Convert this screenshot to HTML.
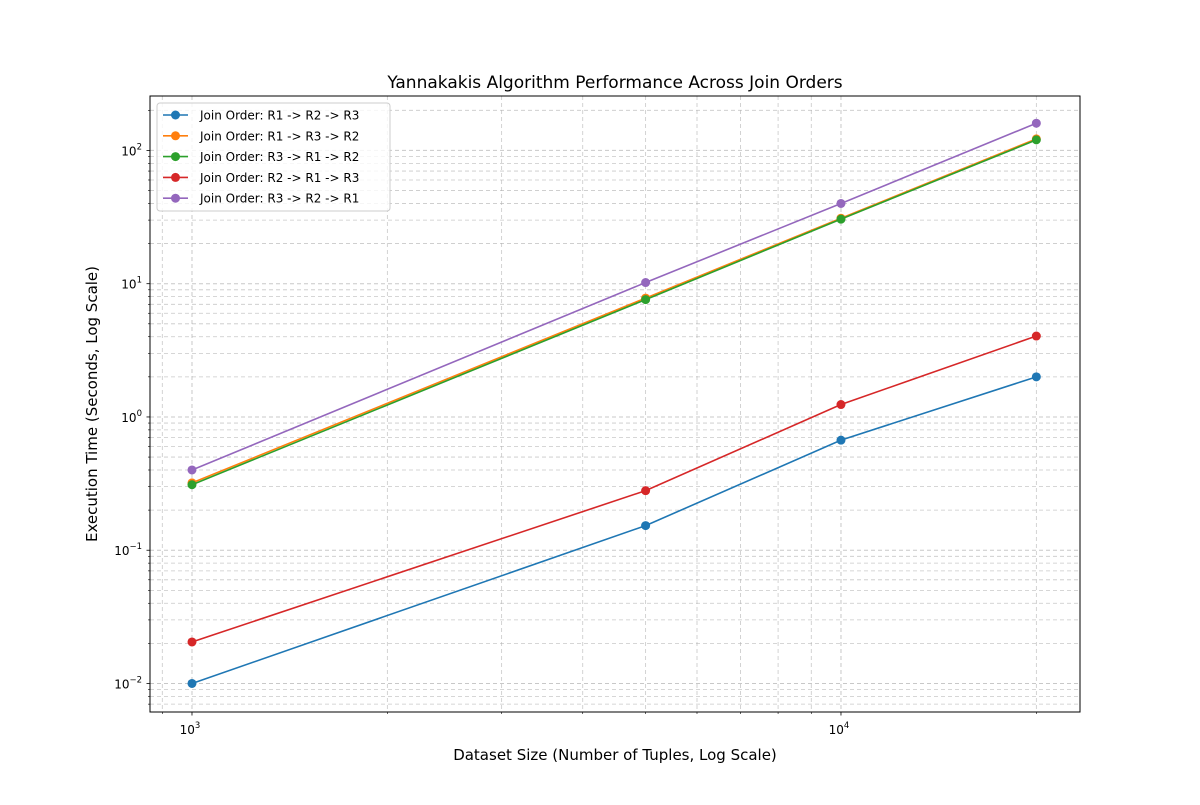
<!DOCTYPE html>
<html><head><meta charset="utf-8"><style>
body{margin:0;background:#fff;}
svg text{font-family:"DejaVu Sans","Liberation Sans",sans-serif;fill:#000;}
</style></head><body>
<svg id="chart" width="1200" height="800" viewBox="0 0 1200 800" xmlns="http://www.w3.org/2000/svg">
<rect width="1200" height="800" fill="#fff"/>
<g id="grid"></g>
<g id="series"></g>
<rect x="150" y="96" width="930" height="616" fill="none" stroke="#000" stroke-width="1"/>
<g id="ticks"></g>
<text x="615" y="88" font-size="17" text-anchor="middle">Yannakakis Algorithm Performance Across Join Orders</text>
<text x="615" y="760" font-size="15" text-anchor="middle">Dataset Size (Number of Tuples, Log Scale)</text>
<text transform="translate(97,404) rotate(-90)" font-size="15" text-anchor="middle">Execution Time (Seconds, Log Scale)</text>
<g id="legend"></g>
</svg>
<script>
const xValues=[1000,5000,10000,20000];
const seriesNames=["Join Order: R1 -> R2 -> R3","Join Order: R1 -> R3 -> R2","Join Order: R3 -> R1 -> R2","Join Order: R2 -> R1 -> R3","Join Order: R3 -> R2 -> R1"];
const seriesColors=["#1f77b4","#ff7f0e","#2ca02c","#d62728","#9467bd"];
const s1=[0.01,0.153,0.67,2.0];
const s2=[0.32,7.8,31,122];
const s3=[0.31,7.6,30.5,120];
const s4=[0.0205,0.28,1.24,4.05];
const s5=[0.40,10.2,40,160];
const seriesValues=[s1,s2,s3,s4,s5];
const xTickExps=[3,4];
const yTickExps=[-2,-1,0,1,2];

const NS="http://www.w3.org/2000/svg";
const L=150,R=1080,T=96,B=712;
const xMin=2.9353,xMax=4.3683,yMin=-2.2139,yMax=2.4084;
const xs=v=>L+(Math.log10(v)-xMin)/(xMax-xMin)*(R-L);
const ys=v=>B-(Math.log10(v)-yMin)/(yMax-yMin)*(B-T);
function mk(tag,attrs,parent){const e=document.createElementNS(NS,tag);for(const k in attrs)e.setAttribute(k,attrs[k]);parent.appendChild(e);return e;}
const grid=document.getElementById('grid'),ticks=document.getElementById('ticks');
for(let d=2;d<=4;d++)for(let m=1;m<10;m++){const v=m*Math.pow(10,d);const lv=Math.log10(v);if(lv<xMin||lv>xMax)continue;const x=xs(v);
 const g=mk('line',{x1:x,x2:x,y1:T,y2:B,stroke:'#b0b0b0','stroke-opacity':0.7,'stroke-dasharray':'4,3','stroke-width':m==1?1:0.8},grid);
 
 mk('line',{x1:x,x2:x,y1:B,y2:B+(m==1?3.5:2),stroke:'#000','stroke-width':m==1?0.8:0.6},ticks);}
for(let d=-3;d<=2;d++)for(let m=1;m<10;m++){const v=m*Math.pow(10,d);const lv=Math.log10(v);if(lv<yMin||lv>yMax)continue;const y=ys(v);
 const g=mk('line',{x1:L,x2:R,y1:y,y2:y,stroke:'#b0b0b0','stroke-opacity':0.7,'stroke-dasharray':'4,3','stroke-width':m==1?1:0.8},grid);
 
 mk('line',{x1:L,x2:L-(m==1?3.5:2),y1:y,y2:y,stroke:'#000','stroke-width':m==1?0.8:0.6},ticks);}
xTickExps.forEach(e=>{const t=mk('text',{x:xs(Math.pow(10,e))-2,y:B+22,'font-size':12,'text-anchor':'middle'},ticks);
 
 t.innerHTML='10<tspan dy="-6" font-size="8.5">'+e+'</tspan>';});
yTickExps.forEach(e=>{const t=mk('text',{x:L-8,y:ys(Math.pow(10,e))+5,'font-size':12,'text-anchor':'end'},ticks);
 
 t.innerHTML='10<tspan dy="-6" font-size="8.5">'+(e<0?'\u2212'+(-e):e)+'</tspan>';});
const sg=document.getElementById('series');
seriesValues.forEach((vals,i)=>{const g=mk('g',{},sg);
 
 const pts=vals.map((v,j)=>xs(xValues[j])+','+ys(v)).join(' ');
 const pl=mk('polyline',{points:pts,fill:'none',stroke:seriesColors[i],'stroke-width':1.6},g);
 
 vals.forEach((v,j)=>{const c=mk('circle',{cx:xs(xValues[j]),cy:ys(v),r:4.5,fill:seriesColors[i]},g);
  });});
const lg=document.getElementById('legend');
const box=mk('rect',{x:157,y:103,width:233,height:108,rx:3,fill:'#fff','fill-opacity':0.8,stroke:'#ccc'},lg);

seriesNames.forEach((n,i)=>{const y=115+i*20.8;const g=mk('g',{},lg);
 
 mk('line',{x1:163,x2:188,y1:y,y2:y,stroke:seriesColors[i],'stroke-width':1.6},g);
 mk('circle',{cx:175.5,cy:y,r:4.5,fill:seriesColors[i]},g);
 const t=mk('text',{x:200,y:y+4.5,'font-size':12},g);t.textContent=n;});
</script>
</body></html>
